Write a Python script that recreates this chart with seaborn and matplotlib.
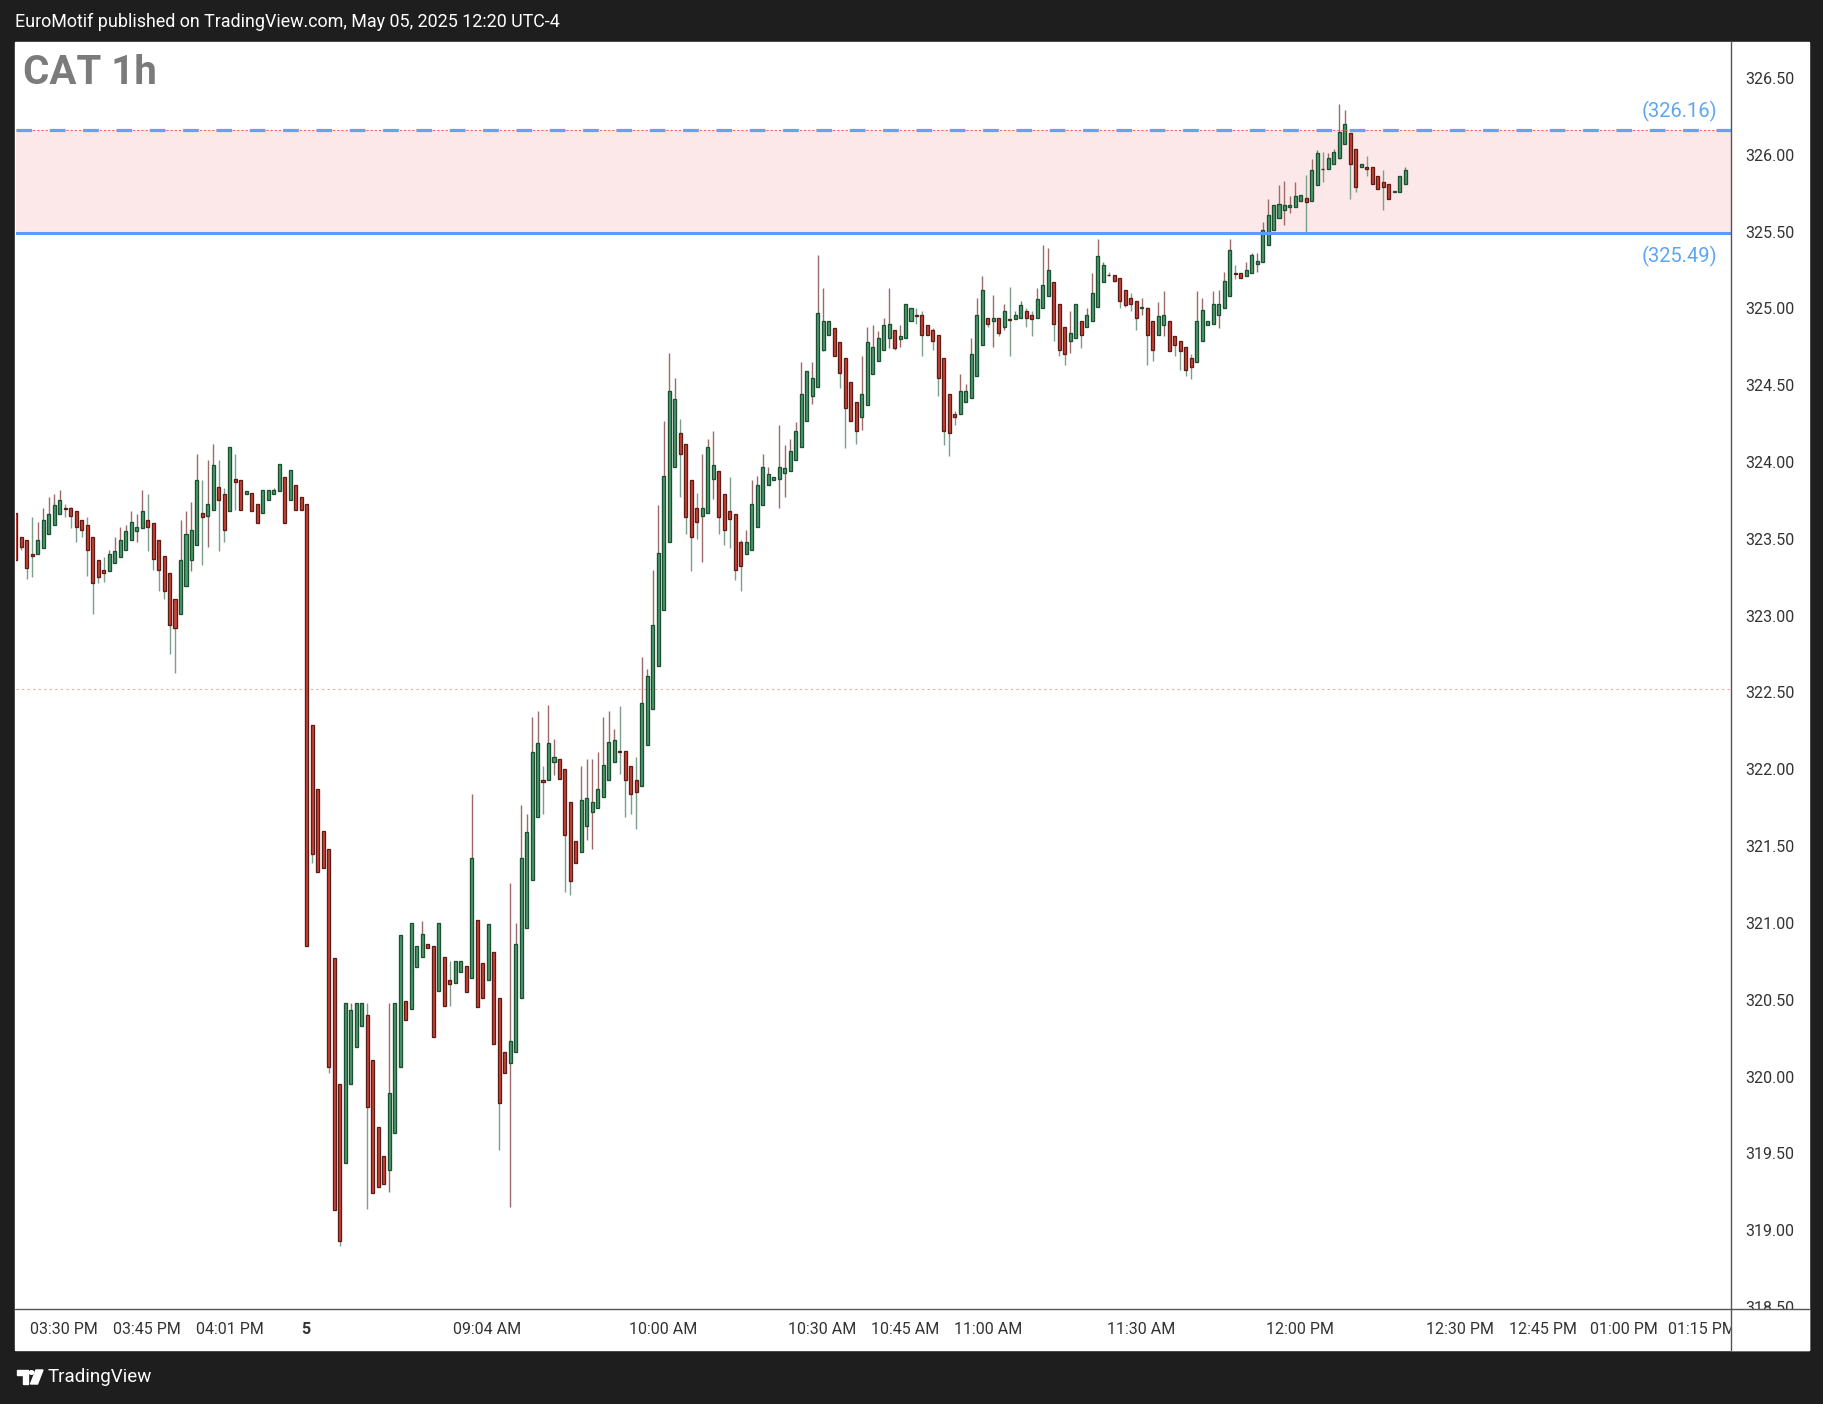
import matplotlib
matplotlib.use("Agg")
import matplotlib.pyplot as plt
import matplotlib.transforms as mtransforms
from matplotlib.patches import Rectangle, Polygon, Circle
from matplotlib.lines import Line2D
import numpy as np
import pandas as pd
import seaborn as sns

# OHLC (velas de 1 minuto)
opens = [323.67, 323.51, 323.49, 323.40, 323.40, 323.44, 323.53, 323.59, 323.66, 323.70,
         323.70, 323.68, 323.62, 323.59, 323.51, 323.36, 323.30, 323.29, 323.34, 323.38,
         323.43, 323.49, 323.55, 323.57, 323.62, 323.60, 323.49, 323.39, 323.28, 323.11,
         323.01, 323.19, 323.36, 323.46, 323.67, 323.65, 323.69, 323.84, 323.79, 323.68,
         323.89, 323.88, 323.79, 323.80, 323.73, 323.67, 323.75, 323.79, 323.81, 323.90,
         323.75, 323.85, 323.77, 323.73, 322.29, 321.87, 321.60, 321.48, 320.77, 319.95,
         319.44, 319.95, 320.19, 320.33, 320.40, 320.11, 319.67, 319.48, 319.39, 319.63,
         320.06, 320.49, 320.44, 320.71, 320.78, 320.86, 320.85, 320.56, 320.78, 320.63,
         320.61, 320.68, 320.72, 320.64, 321.02, 320.74, 320.63, 320.81, 320.51, 320.16,
         320.09, 320.16, 320.51, 320.97, 321.28, 321.69, 321.93, 321.93, 322.05, 322.07,
         322.00, 321.79, 321.53, 321.46, 321.63, 321.72, 321.75, 321.82, 321.93, 322.05,
         322.12, 322.12, 322.02, 321.93, 321.89, 322.16, 322.39, 322.67, 323.04, 323.48,
         323.97, 324.19, 324.12, 323.88, 323.70, 323.65, 323.67, 323.89, 323.94, 323.79,
         323.68, 323.66, 323.48, 323.40, 323.43, 323.58, 323.72, 323.85, 323.88, 323.89,
         323.93, 323.94, 324.01, 324.10, 324.27, 324.43, 324.49, 324.73, 324.83, 324.87,
         324.78, 324.68, 324.52, 324.39, 324.29, 324.37, 324.57, 324.66, 324.73, 324.81,
         324.86, 324.80, 324.81, 324.92, 324.96, 324.96, 324.89, 324.86, 324.83, 324.68,
         324.44, 324.31, 324.31, 324.39, 324.42, 324.56, 324.76, 324.94, 324.92, 324.94,
         324.88, 324.93, 324.93, 324.94, 324.98, 324.96, 324.94, 325.00, 325.08, 325.17,
         325.03, 324.88, 324.79, 324.81, 324.92, 324.88, 324.92, 325.01, 325.17, 325.22,
         325.22, 325.20, 325.12, 325.07, 325.05, 325.00, 325.00, 324.92, 324.83, 324.89,
         324.92, 324.82, 324.79, 324.75, 324.68, 324.65, 324.79, 324.89, 324.90, 324.96,
         325.00, 325.08, 325.23, 325.23, 325.21, 325.23, 325.29, 325.30, 325.41, 325.51,
         325.59, 325.64, 325.66, 325.66, 325.70, 325.72, 325.70, 325.80, 325.91, 325.91,
         325.94, 325.98, 326.07, 326.14, 326.04, 325.92, 325.92, 325.92, 325.86, 325.82,
         325.81, 325.76, 325.76, 325.81]
highs = [323.67, 323.51, 323.49, 323.64, 323.61, 323.70, 323.77, 323.79, 323.82, 323.73,
         323.71, 323.68, 323.62, 323.64, 323.51, 323.36, 323.38, 323.43, 323.51, 323.58,
         323.59, 323.68, 323.66, 323.82, 323.79, 323.60, 323.49, 323.39, 323.28, 323.11,
         323.62, 323.68, 323.74, 324.05, 323.88, 324.01, 324.12, 324.01, 323.83, 324.10,
         324.05, 323.88, 323.81, 323.80, 323.73, 323.82, 323.82, 323.83, 323.99, 323.90,
         323.95, 323.85, 323.77, 323.73, 322.29, 321.87, 321.60, 321.48, 320.77, 319.95,
         320.48, 320.48, 320.48, 320.48, 320.48, 320.11, 319.67, 319.48, 320.48, 320.48,
         320.92, 320.49, 321.00, 320.85, 321.01, 320.86, 320.85, 321.00, 320.78, 320.75,
         320.75, 320.75, 320.72, 321.84, 321.02, 320.74, 320.99, 320.81, 320.51, 320.16,
         321.26, 321.00, 321.77, 321.71, 322.34, 322.38, 322.02, 322.42, 322.20, 322.07,
         322.00, 321.79, 321.53, 322.02, 322.07, 322.07, 322.11, 322.34, 322.38, 322.26,
         322.41, 322.12, 322.02, 322.08, 322.73, 322.65, 323.30, 323.72, 324.27, 324.71,
         324.55, 324.28, 324.12, 323.88, 323.80, 324.05, 324.15, 324.20, 323.94, 323.79,
         323.90, 323.66, 323.49, 323.56, 323.88, 323.91, 324.05, 323.97, 323.90, 324.24,
         324.11, 324.15, 324.26, 324.65, 324.59, 324.65, 325.35, 325.13, 324.92, 324.87,
         324.78, 324.68, 324.52, 324.39, 324.69, 324.88, 324.89, 324.85, 324.94, 325.13,
         324.86, 324.89, 325.03, 325.00, 325.00, 324.98, 324.89, 324.87, 324.83, 324.68,
         324.44, 324.33, 324.57, 324.51, 324.81, 325.07, 325.21, 324.94, 325.09, 324.94,
         325.03, 325.14, 324.98, 325.05, 325.00, 324.98, 325.13, 325.41, 325.39, 325.17,
         325.03, 324.88, 324.98, 325.03, 324.92, 325.00, 325.23, 325.45, 325.30, 325.24,
         325.22, 325.20, 325.12, 325.10, 325.05, 325.07, 325.01, 324.92, 325.04, 325.11,
         324.92, 324.82, 324.79, 324.75, 324.70, 325.11, 325.07, 324.92, 325.11, 325.12,
         325.24, 325.45, 325.28, 325.23, 325.30, 325.36, 325.36, 325.56, 325.71, 325.67,
         325.80, 325.83, 325.73, 325.82, 325.74, 325.87, 325.97, 326.03, 326.02, 326.01,
         326.04, 326.33, 326.29, 326.14, 326.04, 325.94, 325.99, 325.92, 325.86, 325.90,
         325.81, 325.76, 325.86, 325.92]
lows = [323.36, 323.43, 323.24, 323.25, 323.40, 323.44, 323.53, 323.59, 323.66, 323.64,
        323.57, 323.48, 323.51, 323.26, 323.01, 323.21, 323.22, 323.29, 323.34, 323.38,
        323.43, 323.49, 323.48, 323.57, 323.42, 323.30, 323.16, 323.11, 322.75, 322.63,
        323.01, 323.19, 323.29, 323.46, 323.33, 323.45, 323.69, 323.42, 323.48, 323.68,
        323.69, 323.69, 323.79, 323.68, 323.60, 323.67, 323.75, 323.79, 323.81, 323.60,
        323.75, 323.69, 323.69, 320.85, 321.39, 321.33, 321.36, 320.02, 319.13, 318.90,
        319.44, 319.95, 320.19, 320.33, 319.14, 319.24, 319.28, 319.30, 319.25, 319.63,
        320.06, 320.37, 320.44, 320.71, 320.78, 320.84, 320.26, 320.56, 320.46, 320.46,
        320.61, 320.68, 320.55, 320.64, 320.45, 320.51, 320.63, 320.21, 319.52, 320.02,
        319.15, 320.16, 320.51, 320.97, 321.28, 321.69, 321.71, 321.93, 321.96, 321.94,
        321.20, 321.18, 321.39, 321.46, 321.54, 321.48, 321.75, 321.82, 321.93, 322.05,
        321.97, 321.69, 321.71, 321.61, 321.89, 322.16, 322.39, 322.67, 323.04, 323.48,
        323.97, 323.77, 323.53, 323.29, 323.50, 323.35, 323.67, 323.76, 323.53, 323.46,
        323.44, 323.23, 323.16, 323.40, 323.43, 323.58, 323.72, 323.85, 323.88, 323.70,
        323.77, 323.94, 324.01, 324.10, 324.27, 324.38, 324.49, 324.72, 324.83, 324.69,
        324.48, 324.09, 324.27, 324.12, 324.21, 324.37, 324.57, 324.66, 324.73, 324.74,
        324.73, 324.75, 324.81, 324.92, 324.90, 324.69, 324.83, 324.73, 324.43, 324.11,
        324.04, 324.24, 324.31, 324.39, 324.42, 324.56, 324.76, 324.88, 324.75, 324.82,
        324.86, 324.69, 324.93, 324.94, 324.88, 324.82, 324.94, 325.00, 325.08, 324.79,
        324.69, 324.63, 324.71, 324.81, 324.74, 324.88, 324.92, 325.01, 325.17, 325.21,
        325.17, 325.00, 325.01, 324.98, 324.86, 324.96, 324.63, 324.66, 324.83, 324.82,
        324.72, 324.69, 324.60, 324.56, 324.54, 324.65, 324.79, 324.89, 324.90, 324.87,
        325.00, 325.08, 325.19, 325.20, 325.21, 325.23, 325.24, 325.30, 325.41, 325.51,
        325.59, 325.54, 325.62, 325.66, 325.70, 325.49, 325.70, 325.80, 325.82, 325.91,
        325.94, 325.97, 326.07, 325.71, 325.76, 325.92, 325.86, 325.81, 325.78, 325.64,
        325.71, 325.76, 325.76, 325.81]
closes = [323.36, 323.45, 323.31, 323.39, 323.49, 323.62, 323.66, 323.72, 323.75, 323.695,
          323.65, 323.58, 323.56, 323.43, 323.21, 323.25, 323.28, 323.40, 323.42, 323.49,
          323.55, 323.61, 323.58, 323.68, 323.58, 323.37, 323.30, 323.16, 322.94, 322.92,
          323.36, 323.53, 323.56, 323.88, 323.64, 323.73, 323.98, 323.75, 323.56, 324.10,
          323.87, 323.69, 323.81, 323.68, 323.60, 323.82, 323.82, 323.82, 323.99, 323.60,
          323.95, 323.69, 323.69, 320.85, 321.45, 321.33, 321.36, 320.06, 319.13, 318.93,
          320.48, 320.43, 320.48, 320.48, 319.80, 319.24, 319.28, 319.30, 319.89, 320.48,
          320.92, 320.37, 321.00, 320.85, 320.93, 320.84, 320.26, 321.00, 320.46, 320.60,
          320.75, 320.75, 320.55, 321.42, 320.45, 320.51, 320.99, 320.21, 319.83, 320.02,
          320.23, 320.86, 321.42, 321.59, 322.11, 322.17, 321.92, 322.17, 322.08, 321.94,
          321.57, 321.27, 321.39, 321.80, 321.81, 321.79, 321.87, 322.03, 322.18, 322.19,
          322.11, 321.93, 321.84, 321.85, 322.43, 322.61, 322.94, 323.41, 323.91, 324.46,
          324.41, 324.05, 323.64, 323.51, 323.61, 323.70, 324.10, 323.98, 323.64, 323.56,
          323.63, 323.30, 323.32, 323.48, 323.73, 323.85, 323.97, 323.92, 323.90, 323.97,
          323.96, 324.07, 324.20, 324.44, 324.59, 324.55, 324.97, 324.92, 324.92, 324.69,
          324.58, 324.35, 324.27, 324.20, 324.44, 324.78, 324.75, 324.81, 324.89, 324.90,
          324.74, 324.82, 325.03, 325.00, 324.95, 324.83, 324.83, 324.79, 324.55, 324.20,
          324.19, 324.29, 324.46, 324.46, 324.70, 324.96, 325.12, 324.90, 324.94, 324.84,
          324.98, 324.925, 324.96, 325.02, 324.94, 324.93, 325.06, 325.15, 325.25, 324.90,
          324.73, 324.70, 324.84, 325.03, 324.83, 324.96, 325.10, 325.34, 325.28, 325.215,
          325.18, 325.05, 325.02, 325.03, 324.94, 325.01, 324.83, 324.73, 324.95, 324.96,
          324.72, 324.76, 324.72, 324.60, 324.62, 324.92, 324.99, 324.92, 325.03, 325.03,
          325.18, 325.38, 325.225, 325.20, 325.25, 325.35, 325.31, 325.51, 325.61, 325.67,
          325.68, 325.67, 325.67, 325.73, 325.74, 325.69, 325.90, 326.01, 325.905, 325.98,
          326.02, 326.15, 326.20, 325.94, 325.79, 325.94, 325.91, 325.81, 325.78, 325.79,
          325.71, 325.765, 325.86, 325.90]

tick_pos = [8.8, 23.8, 38.9, 52.8, 85.9, 117.9, 146.9, 161.9, 177.0, 204.9,
            233.9, 263.0, 278.0, 292.8, 307.0]
tick_labels = ["03:30 PM", "03:45 PM", "04:01 PM", "5", "09:04 AM", "10:00 AM",
               "10:30 AM", "10:45 AM", "11:00 AM", "11:30 AM", "12:00 PM",
               "12:30 PM", "12:45 PM", "01:00 PM", "01:15 PM"]
price_ticks = [318.5, 319.0, 319.5, 320.0, 320.5, 321.0, 321.5, 322.0, 322.5,
               323.0, 323.5, 324.0, 324.5, 325.0, 325.5, 326.0, 326.5]

zone_top = 326.16
zone_bottom = 325.49
hline_level = 322.52

df = pd.DataFrame({"open": opens, "high": highs, "low": lows, "close": closes})
df["x"] = np.arange(len(df))
df["up"] = df["close"] >= df["open"]

sns.set_theme(style="white")
plt.rcParams['font.family'] = ['Roboto', 'DejaVu Sans']
plt.rcParams['lines.scale_dashes'] = False

W, H = 1824, 1404
fig = plt.figure(figsize=(W / 100, H / 100), dpi=100)
fig.patch.set_facecolor('#1e1e1e')


def fx(x):
    return x / W


def fy(y):
    return 1 - y / H


# panel blanco
fig.add_artist(Rectangle((fx(15), fy(1350)), (1809 - 15) / W, (1350 - 42) / H,
                         transform=fig.transFigure, color='white', zorder=-5))

ax = fig.add_axes([fx(16), fy(1309), (1731 - 16) / W, (1309 - 42) / H])
ax.set_facecolor('white')
for s in ax.spines.values():
    s.set_visible(False)

# zona y lineas
ax.axhspan(zone_bottom, zone_top, color='#fce8e8', zorder=0, lw=0)
ax.axhline(hline_level, color='#f2a3a3', lw=0.8, ls=(0, (1.5, 2.5)), zorder=1)

up_face, up_edge, up_wick = '#4c9b6c', '#1d4f33', '#9c6a68'
dn_face, dn_edge, dn_wick = '#cc4236', '#5c1d17', '#7c9e8b'

wick_c = np.where(df["up"], up_wick, dn_wick)
face_c = np.where(df["up"], up_face, dn_face)
edge_c = np.where(df["up"], up_edge, dn_edge)

ax.vlines(df["x"], df["low"], df["high"], colors=wick_c, lw=1.0, zorder=2)
body_lo = df[["open", "close"]].min(axis=1)
body_h = (df["close"] - df["open"]).abs().clip(lower=0.004)
ax.bar(df["x"], body_h, bottom=body_lo, width=0.55, color=face_c,
       edgecolor=edge_c, linewidth=0.95, zorder=3)

ax.axhline(zone_top, color='#f06262', lw=0.8, ls=(0, (1.5, 1.5)), zorder=4)
ax.axhline(zone_top, color='#5ea6f2', lw=2.3, ls=(0, (11.3, 12.7)), zorder=5)
ax.axhline(zone_bottom, color='#5b9cf6', lw=2.2, zorder=5)

trans = mtransforms.blended_transform_factory(ax.transAxes, ax.transData)
ax.text(0.9918, 326.28, "(%.2f)" % zone_top, transform=trans, ha='right', va='center',
        color='#5ea6f2', fontsize=14.5, zorder=6)
ax.text(0.9918, 325.34, "(%.2f)" % zone_bottom, transform=trans, ha='right', va='center',
        color='#5ea6f2', fontsize=14.5, zorder=6)

ax.set_xlim(0.05, 0.05 + (1731 - 16) / 5.4925)
ax.set_ylim(318.487, 326.734)

ax.yaxis.tick_right()
ax.set_yticks(price_ticks)
ax.set_yticklabels(["%.2f" % p for p in price_ticks])
ax.tick_params(axis='y', length=0, pad=10, labelsize=11.5, colors='#333333')
ax.set_xticks(tick_pos)
ax.set_xticklabels(tick_labels)
ax.tick_params(axis='x', length=0, pad=9, labelsize=11.5, colors='#333333')
ax.get_xticklabels()[3].set_fontweight('bold')
ax.grid(False)

# tapar esquina inferior derecha
fig.add_artist(Rectangle((fx(1731.5), fy(1350)), (1809 - 1731.5) / W, (1350 - 1309.5) / H,
                         transform=fig.transFigure, color='white', zorder=10))
fig.add_artist(Line2D([fx(1731), fx(1731)], [fy(42), fy(1350)], transform=fig.transFigure,
                      color='#555555', lw=1.0, zorder=11))
fig.add_artist(Line2D([fx(15), fx(1809)], [fy(1309), fy(1309)], transform=fig.transFigure,
                      color='#555555', lw=1.0, zorder=11))

fig.text(fx(15), fy(22), "EuroMotif published on TradingView.com, May 05, 2025 12:20 UTC-4",
         color='white', fontsize=12.9, va='center', ha='left')
fig.text(fx(23), fy(73), "CAT 1h", color='#7b7b7b', fontsize=29, fontweight='bold',
         va='center', ha='left')

# logo TradingView
logo1 = [(17, 1370), (28, 1370), (28, 1384), (23, 1384), (23, 1375), (17, 1375)]
logo2 = [(36, 1370), (43, 1370), (37.5, 1384), (30.5, 1384)]
fig.add_artist(Polygon([(fx(a), fy(b)) for a, b in logo1], closed=True,
                       transform=fig.transFigure, color='white'))
fig.add_artist(Polygon([(fx(a), fy(b)) for a, b in logo2], closed=True,
                       transform=fig.transFigure, color='white'))
fig.add_artist(Circle((fx(31.5), fy(1372.5)), 2.3 / W, transform=fig.transFigure, color='white'))
fig.text(fx(48), fy(1377), "TradingView", color='white', fontsize=13.5, va='center', ha='left')

fig.savefig("out.png", dpi=100, facecolor=fig.get_facecolor())
